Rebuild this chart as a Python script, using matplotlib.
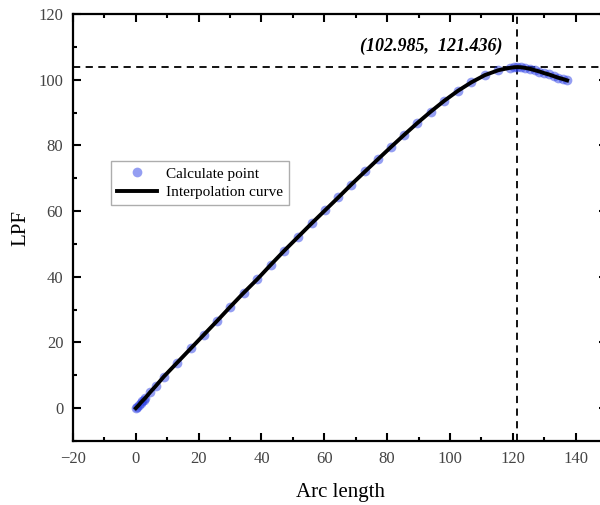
import matplotlib
matplotlib.use("Agg")
from matplotlib import pyplot as plt
from matplotlib.ticker import MultipleLocator

plt.rcParams['font.family'] = ['Liberation Serif', 'DejaVu Serif']

# calculated points (arc length, LPF)
arc = [0.0, 0.5, 1.0, 1.5, 2.0, 2.5, 3.0, 4.5, 6.3, 8.9, 13.2, 17.5, 21.6, 25.9,
       29.9, 34.3, 38.7, 42.9, 47.2, 51.7, 56.0, 60.3, 64.5, 68.6, 73.0, 77.2,
       81.2, 85.4, 89.6, 93.9, 98.2, 102.5, 106.8, 111.1, 115.4, 119.0, 120.5,
       121.4, 122.5, 124.0, 125.5, 127.0, 128.5, 130.0, 131.5, 133.0, 134.5,
       136.0, 137.3]
lpf = [0.0, 0.5, 1.0, 1.6, 2.1, 2.6, 3.1, 4.8, 6.7, 9.6, 13.9, 18.2, 22.3, 26.6,
       30.7, 35.1, 39.3, 43.6, 47.9, 52.2, 56.3, 60.3, 64.2, 68.1, 72.1, 75.9,
       79.5, 83.2, 86.8, 90.3, 93.6, 96.6, 99.2, 101.4, 102.9, 103.6, 103.8,
       103.85, 103.8, 103.6, 103.3, 102.9, 102.5, 102.0, 101.6, 101.1, 100.6,
       100.2, 99.8]

peak_arc = 121.4
peak_lpf = 103.85
peak_label = "(102.985,  121.436)"

fig = plt.figure(figsize=(6.0, 5.05), dpi=100)
# right spine sits just past the right edge of the picture
ax = fig.add_axes([0.1217, 0.1267, 0.89, 0.8455])

ax.axhline(peak_lpf, color='black', lw=1.3, ls=(0, (4, 3)), zorder=1)
ax.axvline(peak_arc, color='black', lw=1.3, ls=(0, (4, 3)), zorder=1)

ax.plot(arc, lpf, 'o', color='#2a3ee6', alpha=0.5, ms=7, mew=0,
        label='Calculate point', zorder=2)
ax.plot(arc, lpf, '-', color='black', lw=2.8, label='Interpolation curve', zorder=3)

ax.text(94.2, 110.3, peak_label, ha='center', va='center', fontsize=13,
        fontstyle='italic', fontweight='bold')

ax.set_xlim(-20, 150)
ax.set_ylim(-10, 120)
ax.xaxis.set_major_locator(MultipleLocator(20))
ax.xaxis.set_minor_locator(MultipleLocator(10))
ax.yaxis.set_major_locator(MultipleLocator(20))
ax.yaxis.set_minor_locator(MultipleLocator(10))
ax.tick_params(which='both', direction='in', top=True, right=True, width=1.5,
               labelsize=12, labelcolor='#444444', pad=7)
ax.tick_params(which='major', length=6)
ax.tick_params(which='minor', length=3)
for sp in ax.spines.values():
    sp.set_linewidth(1.6)

ax.set_xlabel('Arc length', fontsize=15, labelpad=12)
ax.set_ylabel('LPF', fontsize=15, labelpad=6)

leg = ax.legend(loc='upper left', bbox_to_anchor=(0.071, 0.656), fontsize=11,
                frameon=True, fancybox=False, edgecolor='#999999',
                borderaxespad=0, handlelength=2.6, handletextpad=0.6,
                borderpad=0.4, labelspacing=0.3)
leg.get_frame().set_linewidth(1.0)

fig.savefig('out.png', dpi=100)
